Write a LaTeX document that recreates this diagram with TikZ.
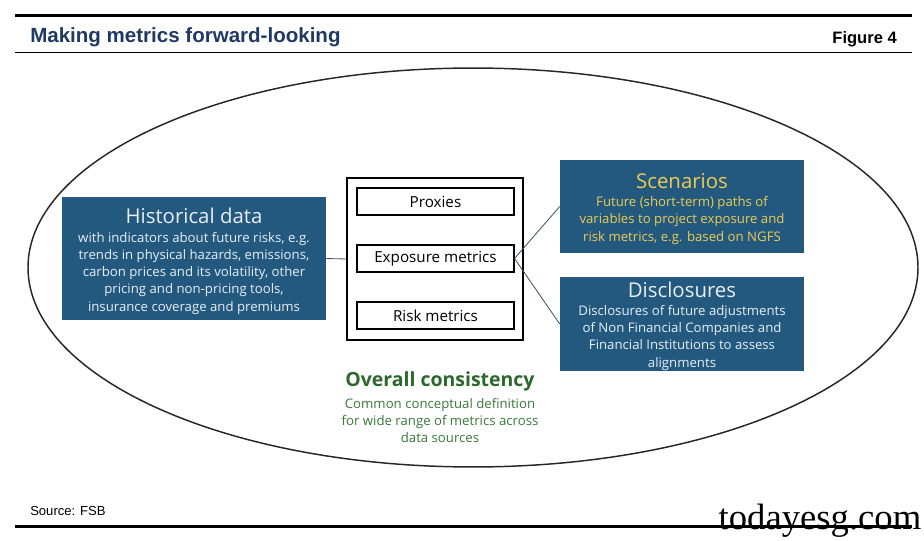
\documentclass[tikz,border=0pt]{standalone}
\usepackage{fontspec}
\setmainfont{Liberation Sans}
\newfontfamily\boxfont{Open Sans}
\newfontfamily\markfont{Liberation Serif}
\usetikzlibrary{positioning}

\definecolor{titlenavy}{RGB}{31,56,100}
\definecolor{boxblue}{RGB}{35,89,126}
\definecolor{boxtext}{RGB}{232,238,244}
\definecolor{scenyellow}{RGB}{236,204,84}
\definecolor{linkgray}{RGB}{52,78,100}
\definecolor{darkgreen}{RGB}{44,104,44}
\definecolor{midgreen}{RGB}{58,120,58}

\begin{document}
\begin{tikzpicture}[x=0.75pt, y=-0.75pt,
    bluebox/.style={fill=boxblue, inner sep=0pt, minimum width=183pt},
    boxhead/.style={inner sep=0pt, font=\boxfont\fontsize{15.3}{18}\selectfont},
    boxbody/.style={inner sep=0pt, align=center, font=\boxfont\fontsize{9.9}{12.9}\selectfont},
    metric/.style={draw=black, thick, inner sep=0pt, minimum width=117.75pt, minimum height=20.25pt, font=\boxfont\fontsize{11.4}{12}\selectfont},
    link/.style={draw=linkgray, semithick}
]
\useasboundingbox (0,0) rectangle (924,541);

% header
\draw[line width=2.4pt] (15,15.5) -- (912,15.5);
\node[anchor=west, inner sep=0pt, text=titlenavy, font=\bfseries\fontsize{15.4}{18}\selectfont] (title) at (30,37) {Making metrics forward-looking};
\node[anchor=east, inner sep=0pt, font=\bfseries\fontsize{12.4}{14}\selectfont] (fig) at (897,39) {Figure 4};
\draw[thin] (15,52.5) -- (912,52.5);

% big ellipse
\draw[line width=1.1pt, black!85] (473,267.5) ellipse [x radius=333.75pt, y radius=149.6pt];

% historical data
\node[bluebox, minimum width=198pt, minimum height=92.25pt] (hist) at (194,258.5) {};
\node[boxhead, text=boxtext, below=8.5pt of hist.north] (histhead) {Historical data};
\node[boxbody, text=boxtext, below=5.8pt of histhead] (histbody) {with indicators about future risks, e.g.\\
trends in physical hazards, emissions,\\
carbon prices and its volatility, other\\
pricing and non-pricing tools,\\
insurance coverage and premiums};

% metrics frame
\node[draw=black, thick, inner sep=0pt, minimum width=132pt, minimum height=121.5pt] (frame) at (435,259) {};
\node[metric] (prox) at (435.5,201.5) {Proxies};
\node[metric] (expo) at (435.5,258.5) {Exposure metrics};
\node[metric] (risk) at (435.5,315.5) {Risk metrics};

% scenarios
\node[bluebox, minimum height=69.75pt] (scen) at (682,206.5) {};
\node[boxhead, text=scenyellow, below=10pt of scen.north] (scenhead) {Scenarios};
\node[boxbody, text=scenyellow, below=5.6pt of scenhead] (scenbody) {Future (short-term) paths of\\
variables to project exposure and\\
risk metrics, e.g. based on NGFS};

% disclosures
\node[bluebox, minimum height=70.5pt] (disc) at (682,324) {};
\node[boxhead, text=boxtext, below=3.4pt of disc.north] (dischead) {Disclosures};
\node[boxbody, text=boxtext, below=5.8pt of dischead] (discbody) {Disclosures of future adjustments\\
of Non Financial Companies and\\
Financial Institutions to assess\\
alignments};

% connectors
\draw[link] (hist.east) -- (frame.west);
\draw[link] (expo.east) -- (scen.west);
\draw[link] (expo.east) -- (disc.west);

% overall consistency
\node[inner sep=0pt, text=darkgreen, font=\boxfont\bfseries\fontsize{14.6}{16}\selectfont] (cons) at (440,381) {Overall consistency};
\node[boxbody, text=midgreen, below=5pt of cons] (consbody) {Common conceptual definition\\
for wide range of metrics across\\
data sources};

% footer
\node[anchor=west, inner sep=0pt, font=\fontsize{9.8}{12}\selectfont] (src) at (30,511) {Source: FSB};
\draw[line width=2.4pt] (15,526.5) -- (912,526.5);
\node[inner sep=0pt, font=\markfont\fontsize{27.5}{30}\selectfont] (mark) at (820,521) {todayesg.com};
\end{tikzpicture}
\end{document}
